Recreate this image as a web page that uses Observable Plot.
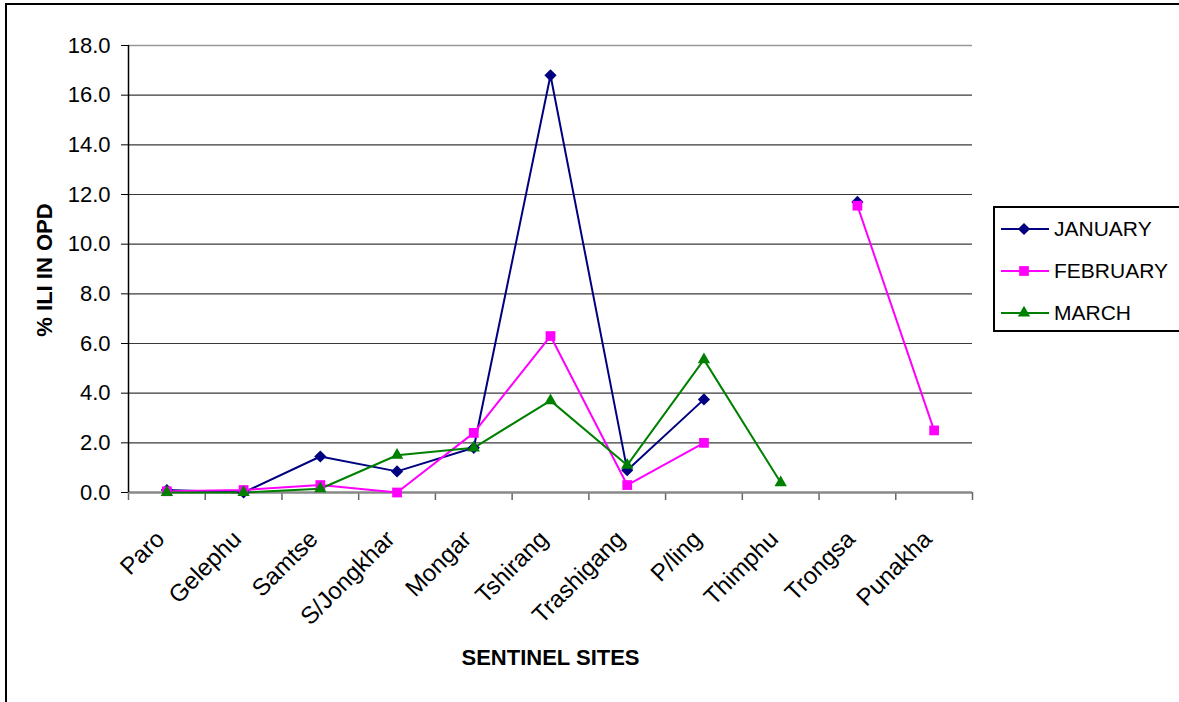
<!DOCTYPE html>
<html>
<head>
<meta charset="utf-8">
<script src="https://cdn.jsdelivr.net/npm/d3@7"></script>
<script src="https://cdn.jsdelivr.net/npm/@observablehq/plot@0.6"></script>
<style>
  html, body { margin: 0; padding: 0; background: #fff; overflow: hidden; }
  #wrap { position: relative; width: 1179px; height: 702px; font-family: "Liberation Sans", Arial, sans-serif; }
  #frame { position: absolute; left: 5px; top: 3px; width: 1200px; height: 720px; border: 2px solid #000; pointer-events: none; box-sizing: border-box; }
  #legend { position: absolute; left: 993px; top: 206px; width: 190px; height: 126px; border: 2px solid #000; box-sizing: border-box; background: #fff; }
  .item { position: absolute; left: 6px; height: 30px; display: flex; align-items: center; font-size: 21px; color: #000; }
  .item svg { margin-right: 5px; }
  #ytitle { position: absolute; left: 45px; top: 270px; transform: translate(-50%, -50%) rotate(-90deg); font-weight: bold; font-size: 22px; white-space: nowrap; }
</style>
</head>
<body>
<div id="wrap">
  <div id="chart"></div>
  <div id="ytitle">% ILI IN OPD</div>
  <div id="legend"></div>
  <div id="frame"></div>
</div>
<script>
// ---- data ----
const sites = ["Paro", "Gelephu", "Samtse", "S/Jongkhar", "Mongar", "Tshirang", "Trashigang", "P/ling", "Thimphu", "Trongsa", "Punakha"];
const months = ["JANUARY", "FEBRUARY", "MARCH"];
const january  = [0.1, 0.0, 1.45, 0.85, 1.8, 16.8, 0.9, 3.75, null, 11.7, null];
const february = [0.05, 0.1, 0.3, 0.0, 2.4, 6.3, 0.3, 2.0, null, 11.55, 2.5];
const march    = [0.0, 0.0, 0.15, 1.5, 1.8, 3.7, 1.1, 5.35, 0.4, null, null];
const yTicks = [0, 2, 4, 6, 8, 10, 12, 14, 16, 18];
const colors = ["#000080", "#FF00FF", "#008000"];
const symbols = ["diamond2", "square", "triangle"];
const symbolR = [5.5, 5.5, 4.6];

const series = [january, february, march];
const rows = [];
series.forEach((vals, m) => vals.forEach((v, i) => rows.push({xi: i + 0.5, site: sites[i], month: months[m], value: v})));
const bounds = d3.range(sites.length + 1);

const chart = Plot.plot({
  width: 1179,
  height: 702,
  marginLeft: 128,
  marginRight: 207,
  marginTop: 45,
  marginBottom: 210,
  x: {type: "linear", domain: [0, sites.length]},
  y: {domain: [0, 18]},
  color: {domain: months, range: colors},
  style: {fontFamily: "'Liberation Sans', Arial, sans-serif", fontSize: "22px", background: "transparent", color: "#000", overflow: "visible"},
  marks: [
    Plot.ruleY(yTicks.filter(d => d > 0 && d < 18), {stroke: "#3a3a3a", strokeWidth: 1.2}),
    Plot.ruleY([18], {stroke: "#999", strokeWidth: 1.5}),
    Plot.axisY({ticks: yTicks, tickFormat: d => d.toFixed(1), tickSize: 7, tickPadding: 11, fontSize: 22, stroke: "#000", label: null}),
    Plot.axisX({ticks: bounds, tickFormat: () => "", tickSize: 8, stroke: "#666", strokeWidth: 1.5, label: null}),
    Plot.ruleY([0], {stroke: "#888", strokeWidth: 2.5}),
    Plot.ruleX([0], {stroke: "#000", strokeWidth: 1.5}),
    Plot.text(sites, {x: (d, i) => i + 0.5, frameAnchor: "bottom", text: d => d, rotate: -45, textAnchor: "end", dx: -1, dy: 48, fontSize: 24}),
    Plot.text(["SENTINEL SITES"], {frameAnchor: "bottom", dy: 172, fontWeight: "bold", fontSize: 22}),
    Plot.line(rows, {x: "xi", y: "value", z: "month", stroke: "month", strokeWidth: 2}),
    ...months.map((m, k) => Plot.dot(rows.filter(d => d.month === m && d.value != null), {x: "xi", y: "value", symbol: symbols[k], fill: colors[k], r: symbolR[k], stroke: null}))
  ]
});
document.getElementById("chart").appendChild(chart);

// legend
const legend = document.getElementById("legend");
const d3syms = [d3.symbolDiamond2, d3.symbolSquare, d3.symbolTriangle];
months.forEach((m, k) => {
  const div = document.createElement("div");
  div.className = "item";
  div.style.top = (6 + k * 42) + "px";
  const sym = d3.symbol(d3syms[k], Math.PI * symbolR[k] * symbolR[k])();
  div.innerHTML = `<svg width="48" height="24"><line x1="0" x2="48" y1="12" y2="12" stroke="${colors[k]}" stroke-width="2"/><path d="${sym}" transform="translate(23,12)" fill="${colors[k]}"/></svg><span>${m}</span>`;
  legend.appendChild(div);
});
</script>
</body>
</html>
